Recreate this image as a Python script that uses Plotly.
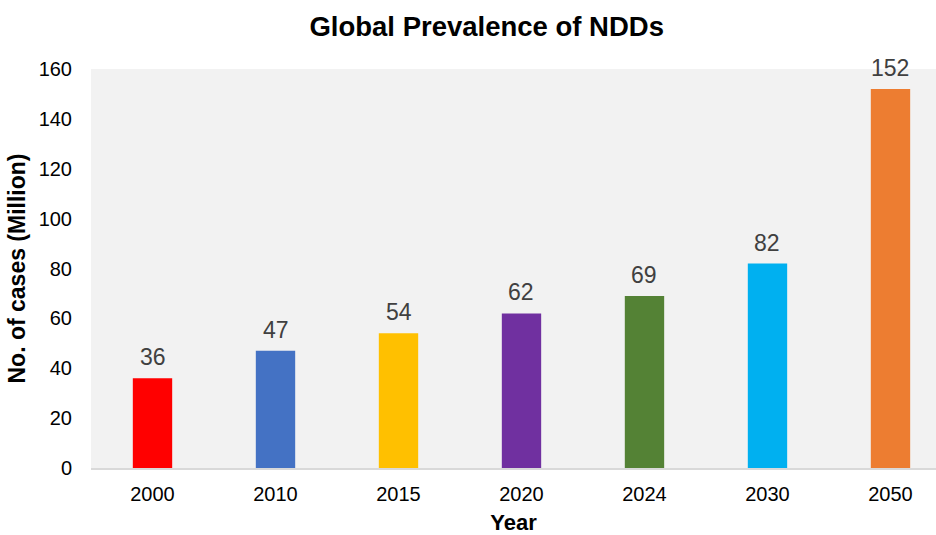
import plotly.graph_objects as go

years = ["2000", "2010", "2015", "2020", "2024", "2030", "2050"]
cases = [36, 47, 54, 62, 69, 82, 152]
colors = ["#FF0000", "#4472C4", "#FFC000", "#7030A0", "#548235", "#00B0F0", "#ED7D31"]
y_ticks = [0, 20, 40, 60, 80, 100, 120, 140, 160]

fig = go.Figure(go.Bar(
    x=years, y=cases,
    marker=dict(color=colors, line=dict(width=0)),
    width=0.32,
    cliponaxis=False,
))

for i, v in enumerate(cases):
    fig.add_annotation(
        x=i, y=v, text=str(v), showarrow=False,
        xanchor="center", yanchor="bottom", yshift=6,
        font=dict(family="Liberation Sans, Arial", size=23, color="#404040"),
    )

fig.update_layout(
    width=936, height=535,
    margin=dict(l=91, r=0, t=69, b=67),
    paper_bgcolor="white",
    plot_bgcolor="#f2f2f2",
    showlegend=False,
    font=dict(family="Liberation Sans, Arial", color="#000000"),
    title=dict(text="<b>Global Prevalence of NDDs</b>", x=0.52, xanchor="center",
               y=0.95, yanchor="middle", font=dict(size=27.5, color="#000000")),
    xaxis=dict(
        type="category", range=[-0.5, 6.37],
        showgrid=False, showline=True, linecolor="#d9d9d9", linewidth=2,
        tickfont=dict(size=20, color="#000000"),
        ticks="", ticklabelstandoff=7,
        title=dict(text="<b>Year</b>", font=dict(size=22), standoff=11),
    ),
    yaxis=dict(
        range=[0, 160], tickvals=y_ticks,
        showgrid=False, zeroline=False, showline=False,
        tickfont=dict(size=20, color="#000000"),
        ticks="", ticklabelstandoff=18,
        title=dict(text="<b>No. of cases (Million)</b>", font=dict(size=23), standoff=6),
    ),
)

fig.write_html("out.html")
